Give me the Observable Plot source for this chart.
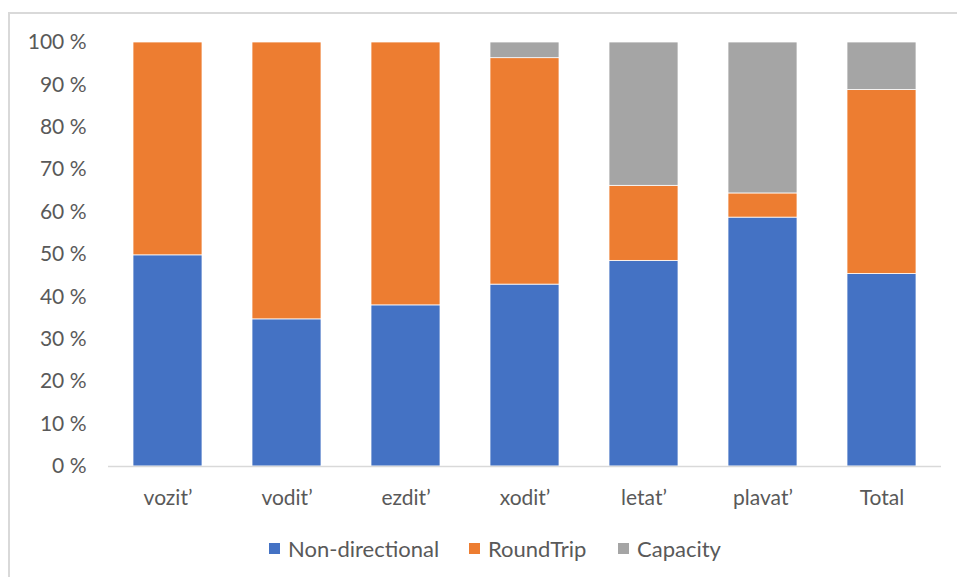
<!DOCTYPE html>
<html>
<head>
<meta charset="utf-8">
<script src="https://cdn.jsdelivr.net/npm/d3@7"></script>
<script src="https://cdn.jsdelivr.net/npm/@observablehq/plot@0.6"></script>
<style>
  html, body { margin: 0; padding: 0; background: #fff; }
  body { width: 957px; height: 577px; position: relative; overflow: hidden; font-family: Lato, "Open Sans", sans-serif; }
  #frame { position: absolute; left: 8px; top: 12px; width: 1000px; height: 700px; border: 2px solid #d9d9d9; box-sizing: border-box; }
  #chart { position: absolute; left: 0; top: 0; }
  #legend { position: absolute; top: 535px; left: 0; width: 957px; height: 26px; font-size: 22px; color: #595959; }
  .item { position: absolute; top: 0; display: flex; align-items: center; height: 26px; }
  .sw { width: 11px; height: 11px; margin-right: 8px; }
</style>
</head>
<body>
<div id="frame"></div>
<div id="chart"></div>
<div id="legend"></div>
<script>
const categories = ["vozit’", "vodit’", "ezdit’", "xodit’", "letat’", "plavat’", "Total"];
const seriesNames = ["Non-directional", "RoundTrip", "Capacity"];
const nonDirectional = [49.8, 34.7, 38.0, 42.9, 48.5, 58.7, 45.4];
const roundTrip = [50.2, 65.3, 62.0, 53.4, 17.7, 5.7, 43.4];
const capacity = [0, 0, 0, 3.7, 33.8, 35.6, 11.2];
const yTicks = [0, 10, 20, 30, 40, 50, 60, 70, 80, 90, 100];
const colors = ["#4472C4", "#ED7D31", "#A5A5A5"];

const seriesValues = [nonDirectional, roundTrip, capacity];
const rows = [];
seriesNames.forEach((s, si) => {
  categories.forEach((c, ci) => rows.push({category: c, series: s, value: seriesValues[si][ci]}));
});

const plot = Plot.plot({
  width: 957,
  height: 530,
  marginTop: 42,
  marginBottom: 64,
  marginLeft: 108,
  marginRight: 16,
  style: {fontFamily: "Lato, 'Open Sans', sans-serif", fontSize: "21px", color: "#595959", background: "transparent"},
  x: {domain: categories, paddingInner: 0.42, paddingOuter: 0.21, label: null},
  y: {domain: [0, 100], label: null},
  color: {domain: seriesNames, range: colors},
  marks: [
    Plot.barY(rows, Plot.stackY({order: seriesNames}, {x: "category", y: "value", fill: "series", stroke: "white", strokeWidth: 0.75})),
    Plot.ruleY([0], {stroke: "#d9d9d9", strokeWidth: 1.5}),
    Plot.axisY({ticks: yTicks, tickFormat: d => d + " %", tickSize: 0, tickPadding: 22, fontSize: 21, label: null, fill: "#595959"}),
    Plot.axisX({tickSize: 0, tickPadding: 24, fontSize: 21, label: null, fill: "#595959"})
  ]
});
document.getElementById("chart").appendChild(plot);

const legend = document.getElementById("legend");
const lx = [269, 469, 618];
seriesNames.forEach((s, i) => {
  const it = document.createElement("div");
  it.className = "item";
  it.style.left = lx[i] + "px";
  const sw = document.createElement("div");
  sw.className = "sw";
  sw.style.background = colors[i];
  const tx = document.createElement("span");
  tx.textContent = s;
  it.appendChild(sw); it.appendChild(tx);
  legend.appendChild(it);
});
</script>
</body>
</html>
